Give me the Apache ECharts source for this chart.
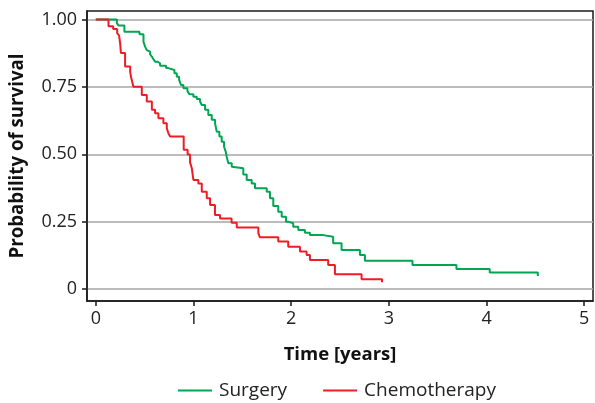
<!DOCTYPE html>
<html>
<head>
<meta charset="utf-8">
<script src="https://cdn.jsdelivr.net/npm/echarts@6/dist/echarts.min.js"></script>
<style>
html,body{margin:0;padding:0;background:#fff;}
#chart{width:595px;height:403px;}
</style>
</head>
<body>
<div id="chart"></div>
<script>
// Kaplan-Meier step data: [time in years, survival probability from that time on]
var surgery = [
  [0,1],[0.216,0.987],[0.232,0.978],[0.293,0.955],[0.447,0.946],[0.488,0.918],
  [0.505,0.90],[0.522,0.887],[0.539,0.881],[0.556,0.871],[0.574,0.863],[0.59,0.853],
  [0.607,0.844],[0.631,0.838],[0.658,0.829],[0.72,0.82],[0.743,0.813],[0.805,0.801],
  [0.829,0.788],[0.853,0.776],[0.873,0.757],[0.897,0.745],[0.938,0.735],[0.958,0.723],
  [0.999,0.714],[1.034,0.705],[1.067,0.696],[1.085,0.683],[1.119,0.665],[1.152,0.646],
  [1.187,0.628],[1.221,0.615],[1.238,0.584],[1.265,0.566],[1.289,0.547],[1.313,0.528],
  [1.33,0.51],[1.34,0.491],[1.357,0.467],[1.392,0.454],[1.408,0.448],[1.51,0.425],
  [1.545,0.405],[1.596,0.392],[1.63,0.374],[1.75,0.361],[1.783,0.337],[1.817,0.308],
  [1.868,0.287],[1.903,0.268],[1.947,0.25],[1.97,0.244],[2.021,0.231],[2.073,0.219],
  [2.141,0.209],[2.192,0.2],[2.328,0.194],[2.43,0.17],[2.516,0.145],[2.704,0.126],
  [2.755,0.105],[3.242,0.089],[3.692,0.074],[4.033,0.061],[4.525,0.061],[4.525,0.048]
];
var chemotherapy = [
  [0,1],[0.13,0.975],[0.178,0.965],[0.219,0.95],[0.239,0.94],[0.25,0.91],[0.257,0.876],
  [0.30,0.826],[0.352,0.806],[0.362,0.785],[0.372,0.77],[0.385,0.751],[0.471,0.72],
  [0.522,0.696],[0.574,0.665],[0.607,0.652],[0.641,0.634],[0.692,0.615],[0.727,0.597],
  [0.743,0.578],[0.761,0.566],[0.90,0.517],[0.94,0.499],[0.965,0.47],[0.983,0.448],
  [0.999,0.405],[1.05,0.392],[1.085,0.361],[1.136,0.337],[1.17,0.312],[1.22,0.275],
  [1.272,0.262],[1.39,0.246],[1.443,0.228],[1.664,0.207],[1.68,0.192],[1.868,0.176],
  [1.97,0.157],[2.09,0.139],[2.158,0.126],[2.192,0.108],[2.379,0.089],[2.448,0.055],
  [2.721,0.036],[2.93,0.036],[2.93,0.025]
];
var xTicks = [0,1,2,3,4,5];
var yTicks = [0,0.25,0.5,0.75,1];
var seriesNames = ['Surgery','Chemotherapy'];

var font = 'Open Sans';
var chart = echarts.init(document.getElementById('chart'), null, {renderer:'canvas'});
chart.setOption({
  animation:false,
  backgroundColor:'#fff',
  grid:{left:87,right:2,top:11,bottom:102,show:true,borderColor:'#1a1a1a',borderWidth:1.5,backgroundColor:'transparent'},
  legend:{
    data:seriesNames, top:376, left:173, itemGap:36, itemWidth:34, itemHeight:2,
    icon:'rect',
    textStyle:{fontFamily:font,fontSize:19,color:'#222',padding:[0,0,0,2]}
  },
  xAxis:{
    type:'value', min:-0.09, max:5.09,
    name:'Time [years]', nameLocation:'middle', nameGap:44,
    nameTextStyle:{fontFamily:font,fontSize:18.5,fontWeight:'bold',color:'#111'},
    axisLine:{show:true,onZero:false,lineStyle:{color:'#1a1a1a',width:1.5}},
    axisTick:{show:true,length:5,customValues:xTicks,lineStyle:{color:'#1a1a1a',width:1.5}},
    axisLabel:{customValues:xTicks,margin:9,fontFamily:font,fontSize:18,color:'#222'},
    splitLine:{show:false}
  },
  yAxis:{
    type:'value', min:-0.0446, max:1.032,
    name:'Probability of survival', nameLocation:'middle', nameGap:60,
    nameTextStyle:{fontFamily:font,fontSize:18.7,fontWeight:'bold',color:'#111'},
    axisLine:{show:true,onZero:false,lineStyle:{color:'#1a1a1a',width:1.5}},
    axisTick:{show:true,length:5,customValues:yTicks,lineStyle:{color:'#1a1a1a',width:1.5}},
    axisLabel:{customValues:yTicks,margin:10,fontFamily:font,fontSize:18,color:'#222',
      formatter:function(v){return v===0?'0':v.toFixed(2);}},
    splitLine:{show:true,lineStyle:{color:'#a6a6a6',width:1.5}}
  },
  series:[
    {name:seriesNames[0],type:'line',step:'end',data:surgery,symbol:'none',
     lineStyle:{color:'#00a651',width:2},itemStyle:{color:'#00a651'}},
    {name:seriesNames[1],type:'line',step:'end',data:chemotherapy,symbol:'none',
     lineStyle:{color:'#ee1c25',width:2},itemStyle:{color:'#ee1c25'}}
  ]
});
</script>
</body>
</html>
